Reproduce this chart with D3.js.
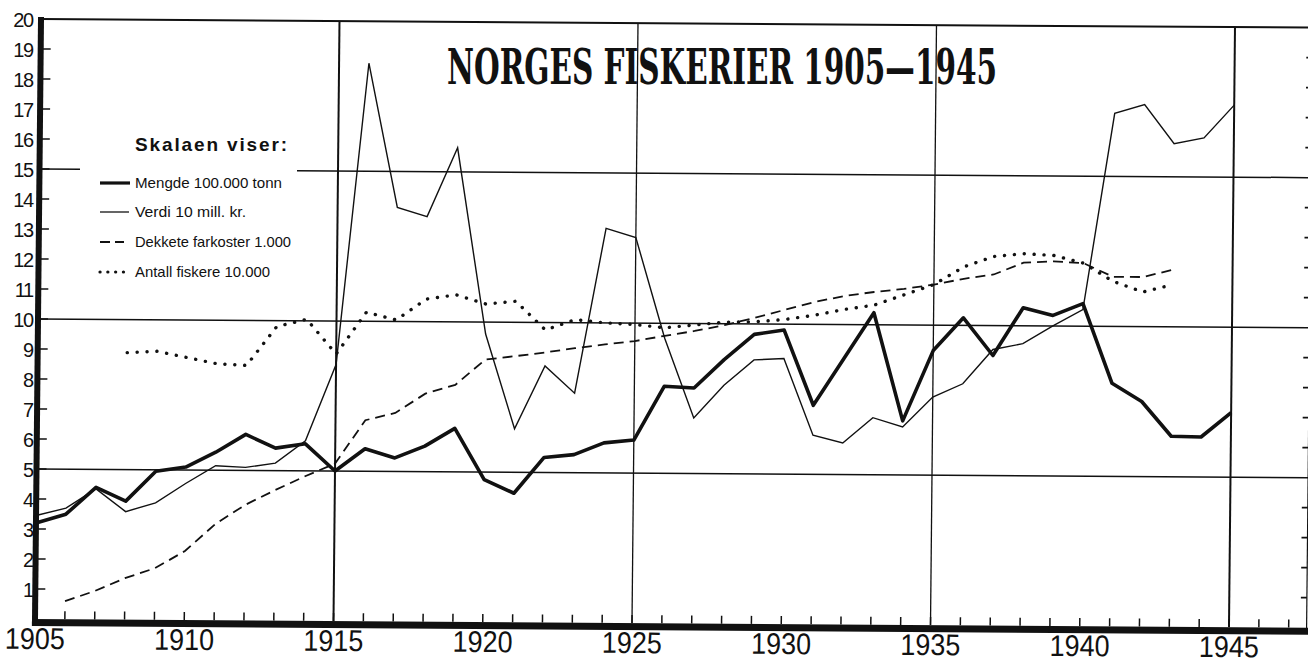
<!DOCTYPE html>
<html><head><meta charset="utf-8">
<script src="https://cdn.jsdelivr.net/npm/d3@7"></script>
<style>body{margin:0;background:#fff}svg{display:block}</style>
</head><body><svg id="c" width="1308" height="664"></svg>
<script>
// ---------- data ----------
const years = d3.range(1905, 1946);
const mengde = [3.2, 3.5, 4.4, 3.95, 4.95, 5.1, 5.6, 6.2, 5.75, 5.9,
  5.0, 5.75, 5.45, 5.85, 6.45, 4.75, 4.3, 5.5, 5.6, 6.0,
  6.1, 7.9, 7.85, 8.8, 9.65, 9.8, 7.3, 8.85, 10.4, 6.8,
  9.15, 10.25, 9.0, 10.6, 10.35, 10.75, 8.1, 7.5, 6.35, 6.33, 7.15];
const verdi = [3.45, 3.7, 4.35, 3.6, 3.9, 4.55, 5.15, 5.1, 5.25, 6.0,
  8.55, 18.6, 13.8, 13.5, 15.8, 9.6, 6.45, 8.55, 7.65, 13.15,
  12.85, 9.5, 6.85, 7.95, 8.8, 8.85, 6.3, 6.05, 6.9, 6.6,
  7.6, 8.05, 9.2, 9.4, 10.0, 10.55, 17.1, 17.4, 16.1, 16.3, 17.4];
const dekkYears = d3.range(1906, 1944);
const dekkete = [0.6, 0.95, 1.38, 1.72, 2.3, 3.2, 3.85, 4.35, 4.82, 5.25,
  6.7, 6.95, 7.6, 7.9, 8.75, 8.87, 9.0, 9.15, 9.28, 9.4,
  9.58, 9.75, 9.95, 10.2, 10.47, 10.74, 10.95, 11.09, 11.2, 11.35,
  11.55, 11.7, 12.1, 12.15, 12.1, 11.65, 11.65, 11.9];
const antallYears = d3.range(1908, 1944);
const antall = [8.9, 8.95, 8.75, 8.55, 8.5, 9.8, 10.05, 8.9, 10.3, 10.05,
  10.75, 10.9, 10.6, 10.7, 9.75, 10.1, 10.0, 9.95, 9.85, 9.95,
  10.05, 10.07, 10.15, 10.3, 10.5, 10.65, 11.0, 11.35, 11.95, 12.3,
  12.4, 12.35, 12.1, 11.5, 11.15, 11.4];
const yTickValues = d3.range(1, 21);
const xLabelYears = [1905, 1910, 1915, 1920, 1925, 1930, 1935, 1940, 1945];
const xTickYears = d3.range(1906, 1948);
const gridYears = [1915, 1925, 1935, 1945];
const gridValues = [5, 10, 15];
const titleText = "NORGES FISKERIER 1905\u20141945";
const legendTitle = "Skalaen viser:";
const legendLabels = ["Mengde 100.000 tonn", "Verdi 10 mill. kr.", "Dekkete farkoster 1.000", "Antall fiskere 10.000"];

// ---------- setup ----------
const svg = d3.select("#c");
svg.append("rect").attr("width", 1308).attr("height", 664).attr("fill", "#fff");
const x = d3.scaleLinear().domain([1905, 1947.6]).range([35, 1306.6]);
const y = d3.scaleLinear().domain([0, 20]).range([619, 19]);
const X0 = x.range()[0], X1 = x.range()[1];
const b = 0.0068, c = -0.01;   // slight skew of the scanned original
const plot = svg.append("g")
  .attr("transform", `matrix(1,${b},${c},1,${-c * y(0)},${-b * X0})`);

const ink = "#111";

// horizontal grid lines (15-line interrupted by legend)
const legendGap = [80, 297];
gridValues.forEach(v => {
  const yy = y(v);
  const shift = c * yy - c * y(0);
  if (v === 15) {
    plot.append("line").attr("x1", X0).attr("x2", legendGap[0] - shift).attr("y1", yy).attr("y2", yy)
      .attr("stroke", ink).attr("stroke-width", 1.5);
    plot.append("line").attr("x1", legendGap[1] - shift).attr("x2", X1).attr("y1", yy).attr("y2", yy)
      .attr("stroke", ink).attr("stroke-width", 1.5);
  } else {
    plot.append("line").attr("x1", X0).attr("x2", X1).attr("y1", yy).attr("y2", yy)
      .attr("stroke", ink).attr("stroke-width", 1.5);
  }
});
// top frame
plot.append("line").attr("x1", X0).attr("x2", X1 + 2).attr("y1", y(20)).attr("y2", y(20))
  .attr("stroke", ink).attr("stroke-width", 2);
// vertical grid lines
gridYears.forEach(yr => {
  plot.append("line").attr("x1", x(yr)).attr("x2", x(yr)).attr("y1", y(20)).attr("y2", y(0))
    .attr("stroke", ink).attr("stroke-width", (yr === 1915 || yr === 1945) ? 2 : 1.3);
});
// right edge line + ticks
plot.append("line").attr("x1", X1).attr("x2", X1).attr("y1", y(10)).attr("y2", y(0) + 3)
  .attr("stroke", ink).attr("stroke-width", 1.2);
plot.selectAll(".rt").data(yTickValues.filter(v => v % 5 !== 0)).enter().append("line")
  .attr("x1", X1 - 6).attr("x2", X1).attr("y1", d => y(d)).attr("y2", d => y(d))
  .attr("stroke", ink).attr("stroke-width", 1.8);
// left ticks
plot.selectAll(".lt").data(yTickValues.filter(v => v < 20)).enter().append("line")
  .attr("x1", X0 + 2).attr("x2", X0 + 10).attr("y1", d => y(d)).attr("y2", d => y(d))
  .attr("stroke", ink).attr("stroke-width", 1.5);
// bottom year ticks
plot.selectAll(".bt").data(xTickYears).enter().append("line")
  .attr("x1", d => x(d)).attr("x2", d => x(d)).attr("y1", y(0) - 8).attr("y2", y(0))
  .attr("stroke", ink).attr("stroke-width", 1.5);
// axes (thick)
plot.append("line").attr("x1", X0).attr("x2", X0).attr("y1", y(20) - 2).attr("y2", y(0) + 7)
  .attr("stroke", ink).attr("stroke-width", 6);
plot.append("line").attr("x1", X0 - 3).attr("x2", 1310).attr("y1", y(0) + 3.5).attr("y2", y(0) + 3.5)
  .attr("stroke", ink).attr("stroke-width", 7);

// x labels
plot.selectAll(".xl").data(xLabelYears).enter().append("text")
  .attr("x", d => x(d)).attr("y", y(0) + 30)
  .attr("text-anchor", "middle")
  .attr("font-family", "Liberation Sans, Arial, sans-serif")
  .attr("font-size", 30).attr("fill", ink)
  .attr("textLength", 60).attr("lengthAdjust", "spacingAndGlyphs")
  .text(d => d);

// series
const line = d3.line().x(d => x(d[0])).y(d => y(d[1]));
plot.append("path").datum(dekkYears.map((yr, i) => [yr, dekkete[i]]))
  .attr("d", line).attr("fill", "none").attr("stroke", ink)
  .attr("stroke-width", 1.8).attr("stroke-dasharray", "10 6");
plot.append("path").datum(antallYears.map((yr, i) => [yr, antall[i]]))
  .attr("d", line).attr("fill", "none").attr("stroke", ink)
  .attr("stroke-width", 3.4).attr("stroke-linecap", "round").attr("stroke-dasharray", "0.1 9.8");
plot.append("path").datum(years.map((yr, i) => [yr, verdi[i]]))
  .attr("d", line).attr("fill", "none").attr("stroke", ink)
  .attr("stroke-width", 1.4).attr("stroke-linejoin", "miter");
plot.append("path").datum(years.map((yr, i) => [yr, mengde[i]]))
  .attr("d", line).attr("fill", "none").attr("stroke", ink)
  .attr("stroke-width", 3.6).attr("stroke-linejoin", "round");

// y labels (not skewed)
svg.selectAll(".yl").data(yTickValues).enter().append("text")
  .attr("x", 33).attr("y", d => y(d) + 8)
  .attr("text-anchor", "end")
  .attr("font-family", "Liberation Sans, Arial, sans-serif")
  .attr("font-size", 20).attr("letter-spacing", -1.2).attr("fill", ink)
  .text(d => d);

// title
svg.append("text").attr("x", 447).attr("y", 84)
  .attr("font-family", "DejaVu Serif Condensed, DejaVu Serif, serif")
  .attr("font-stretch", "condensed").attr("font-weight", "bold")
  .attr("font-size", 48).attr("fill", ink)
  .attr("textLength", 550).attr("lengthAdjust", "spacingAndGlyphs")
  .text(titleText);

// legend
svg.append("text").attr("x", 135).attr("y", 151)
  .attr("font-family", "Liberation Sans, Arial, sans-serif").attr("font-weight", "bold")
  .attr("font-size", 19).attr("fill", ink)
  .attr("textLength", 152).attr("lengthAdjust", "spacing")
  .text(legendTitle);
const legY = [183, 212, 242, 272];
const legW = [147, 111, 156, 135];
const legStyles = [
  {w: 3.2, dash: null, x2: 130},
  {w: 1.3, dash: null, x2: 129},
  {w: 1.8, dash: "10 5", x2: 124},
  {w: 3.2, dash: "0.1 7.7", x2: 124, cap: "round"}
];
legendLabels.forEach((lab, i) => {
  const s = legStyles[i];
  svg.append("line").attr("x1", 100).attr("x2", s.x2).attr("y1", legY[i]).attr("y2", legY[i])
    .attr("stroke", ink).attr("stroke-width", s.w)
    .attr("stroke-dasharray", s.dash).attr("stroke-linecap", s.cap || "butt");
  svg.append("text").attr("x", 135).attr("y", legY[i] + 5)
    .attr("font-family", "Liberation Sans, Arial, sans-serif")
    .attr("font-size", 14.5).attr("fill", ink)
    .attr("textLength", legW[i]).attr("lengthAdjust", "spacingAndGlyphs")
    .text(lab);
});
</script>
</body></html>
